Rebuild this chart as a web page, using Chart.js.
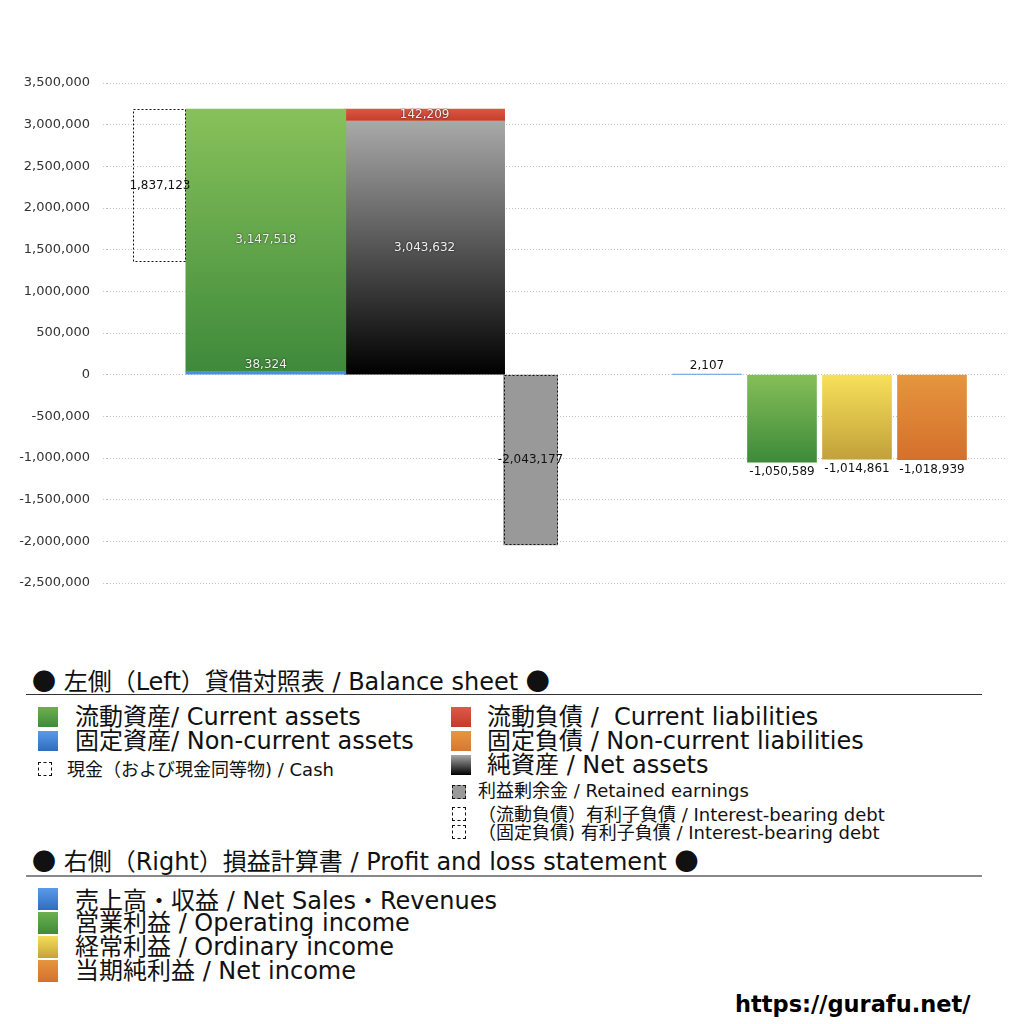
<!DOCTYPE html>
<html>
<head>
<meta charset="utf-8">
<script src="https://cdn.jsdelivr.net/npm/chart.js@4/dist/chart.umd.min.js"></script>
<style>
  html, body { margin: 0; padding: 0; background: #fff; }
  body { width: 1024px; height: 1024px; position: relative; overflow: hidden;
         font-family: "DejaVu Sans", "Noto Sans CJK JP", sans-serif; color: #111; }
  #wrap { position: absolute; left: 0; top: 0; width: 1024px; height: 620px; }
  .t { position: absolute; white-space: nowrap; line-height: 1; }
  .j { font-family: "Noto Sans CJK JP", sans-serif; }
  .hdr { font-size: 24px; }
  .big { font-size: 24px; }
  .small { font-size: 18px; }
  .sw { position: absolute; }
  .rule { position: absolute; left: 26px; width: 956px; }
  .dash { position: absolute; width: 12px; height: 12px; border: 1px dashed #111; box-sizing: content-box; }
</style>
</head>
<body>
<div id="wrap"><canvas id="c" width="1024" height="620"></canvas></div>

<!-- legend: balance sheet -->
<div class="t hdr" style="left:32px; top:668px;"><span class="j">●</span> 左側<span class="j">（</span>Left<span class="j">）</span>貸借対照表 / Balance sheet <span class="j">●</span></div>
<div class="rule" style="top:694px; height:1px; background:#333;"></div>

<div class="sw" style="left:38px; top:707px; width:20px; height:20px; background:linear-gradient(#6cb04f,#3f8b3b);"></div>
<div class="t big" style="left:75px; top:705px;">流動資産/ Current assets</div>
<div class="sw" style="left:38px; top:731px; width:20px; height:20px; background:linear-gradient(#5a9be8,#2f6cc0);"></div>
<div class="t big" style="left:75px; top:729px;">固定資産/ Non-current assets</div>
<div class="dash" style="left:38px; top:762px;"></div>
<div class="t small" style="left:67px; top:759px;">現金<span class="j">（</span>および現金同等物) / Cash</div>

<div class="sw" style="left:451px; top:707px; width:20px; height:20px; background:linear-gradient(#dc5a46,#c23b2a);"></div>
<div class="t big" style="left:487px; top:705px;">流動負債 /&nbsp; Current liabilities</div>
<div class="sw" style="left:451px; top:731px; width:20px; height:20px; background:linear-gradient(#e8963e,#d8772e);"></div>
<div class="t big" style="left:487px; top:729px;">固定負債 / Non-current liabilities</div>
<div class="sw" style="left:451px; top:755px; width:20px; height:20px; background:linear-gradient(#a8a8a8,#000);"></div>
<div class="t big" style="left:487px; top:753px;">純資産 / Net assets</div>
<div class="dash" style="left:452px; top:785px; background:#999;"></div>
<div class="t small" style="left:478px; top:782px;">利益剰余金 / Retained earnings</div>
<div class="dash" style="left:452px; top:807px;"></div>
<div class="t small" style="left:478px; top:804px;"><span class="j">（</span>流動負債<span class="j">）</span>有利子負債 / Interest-bearing debt</div>
<div class="dash" style="left:452px; top:825px;"></div>
<div class="t small" style="left:478px; top:822px;"><span class="j">（</span>固定負債) 有利子負債 / Interest-bearing debt</div>

<!-- legend: profit and loss -->
<div class="t hdr" style="left:32px; top:848px;"><span class="j">●</span> 右側<span class="j">（</span>Right<span class="j">）</span>損益計算書 / Profit and loss statement <span class="j">●</span></div>
<div class="rule" style="top:875px; height:2px; background:#888;"></div>

<div class="sw" style="left:38px; top:888px; width:20px; height:22px; background:linear-gradient(#5a9be8,#2f6cc0);"></div>
<div class="t big" style="left:75px; top:887px;">売上高<span class="j">・</span>収益 / Net Sales<span class="j">・</span>Revenues</div>
<div class="sw" style="left:38px; top:912px; width:20px; height:22px; background:linear-gradient(#6cb04f,#3f8b3b);"></div>
<div class="t big" style="left:75px; top:911px;">営業利益 / Operating income</div>
<div class="sw" style="left:38px; top:936px; width:20px; height:22px; background:linear-gradient(#f4de58,#c4a33a);"></div>
<div class="t big" style="left:75px; top:935px;">経常利益 / Ordinary income</div>
<div class="sw" style="left:38px; top:960px; width:20px; height:22px; background:linear-gradient(#e5963e,#d4702c);"></div>
<div class="t big" style="left:75px; top:959px;">当期純利益 / Net income</div>

<div class="t" style="left:735px; top:993px; font-size:22.5px; font-weight:bold; color:#000;">https://gurafu.net/</div>

<script>
// ---------------- data ----------------
const bsCategories = ['現金', '資産', '負債・純資産', '利益剰余金'];
const cash = [1837123];
const currentAssets = [3147518];
const nonCurrentAssets = [38324];
const currentLiabilities = [142209];
const nonCurrentLiabilities = [0];
const netAssets = [3043632];
const retainedEarnings = [-2043177];

const plCategories = ['売上高・収益', '営業利益', '経常利益', '当期純利益'];
const plValues = [2107, -1050589, -1014861, -1018939];

const yMin = -2500000;
const yMax = 3500000;
const yStep = 500000;

// ---------------- layout helpers (slots on hidden category axes) ----------------
const leftSlots = Array.from({length: 18}, (_, i) => ' '.repeat(i + 1));
[1, 3, 6, 8].forEach((slot, k) => { leftSlots[slot] = bsCategories[k]; });
const rightSlots = Array.from({length: 13}, (_, i) => ' '.repeat(i + 1));
[8, 9, 10, 11].forEach((slot, k) => { rightSlots[slot] = plCategories[k]; });

const fmt = v => v.toLocaleString('en-US');

function grad(c1, c2) {
  return (ctx) => {
    const chart = ctx.chart;
    if (!chart.chartArea || !ctx.raw) return c1;
    const ys = chart.scales.y;
    const r = ctx.raw.y;
    const a = Array.isArray(r) ? r[0] : 0;
    const b = Array.isArray(r) ? r[1] : r;
    const p1 = ys.getPixelForValue(Math.max(a, b));
    const p2 = ys.getPixelForValue(Math.min(a, b));
    if (!isFinite(p1) || !isFinite(p2) || Math.abs(p2 - p1) < 1) return c1;
    const g = chart.ctx.createLinearGradient(0, p1, 0, p2);
    g.addColorStop(0, c1);
    g.addColorStop(1, c2);
    return g;
  };
}

const totalAssets = currentAssets[0] + nonCurrentAssets[0];
const liabBase = netAssets[0] + nonCurrentLiabilities[0];

const plColors = [
  ['#5a9be8', '#2f6cc0'],
  ['#86bf58', '#3d8a3a'],
  ['#f7e05a', '#c2a13a'],
  ['#e5963e', '#d4702c']
];

const WIDE = 160, NARROW = 53, PL = 69;

const datasets = [
  { label: '固定資産', xAxisID: 'xL', barThickness: WIDE,
    data: [{x: bsCategories[1], y: [0, nonCurrentAssets[0]]}],
    backgroundColor: '#4a8ee0', lbl: {text: fmt(nonCurrentAssets[0]), mode: 'above', color: '#fff'} },
  { label: '流動資産', xAxisID: 'xL', barThickness: WIDE,
    data: [{x: bsCategories[1], y: [nonCurrentAssets[0], totalAssets]}],
    backgroundColor: grad('#88c15a', '#3e8a3b'), lbl: {text: fmt(currentAssets[0]), mode: 'center', color: '#fff'} },
  { label: '純資産', xAxisID: 'xL', barThickness: WIDE,
    data: [{x: bsCategories[2], y: [0, netAssets[0]]}],
    backgroundColor: grad('#a9a9a9', '#000000'), lbl: {text: fmt(netAssets[0]), mode: 'center', color: '#fff'} },
  { label: '固定負債', xAxisID: 'xL', barThickness: WIDE,
    data: [{x: bsCategories[2], y: [netAssets[0], liabBase]}],
    backgroundColor: '#e08a36' },
  { label: '流動負債', xAxisID: 'xL', barThickness: WIDE,
    data: [{x: bsCategories[2], y: [liabBase, liabBase + currentLiabilities[0]]}],
    backgroundColor: grad('#dc5643', '#c53d2b'), lbl: {text: fmt(currentLiabilities[0]), mode: 'center', color: '#fff'} },
  { label: '現金', xAxisID: 'xL', barThickness: NARROW,
    data: [{x: bsCategories[0], y: [totalAssets - cash[0], totalAssets]}],
    backgroundColor: 'rgba(0,0,0,0)', dashed: true, lbl: {text: fmt(cash[0]), mode: 'center', color: '#111'} },
  { label: '利益剰余金', xAxisID: 'xL', barThickness: NARROW + 1,
    data: [{x: bsCategories[3], y: [retainedEarnings[0], 0]}],
    backgroundColor: '#999999', dashed: true, lbl: {text: fmt(retainedEarnings[0]), mode: 'center', color: '#111'} },
  { label: '損益計算書', xAxisID: 'xR', barThickness: PL,
    data: plCategories.map((c, i) => ({x: c, y: plValues[i]})),
    backgroundColor: (ctx) => {
      const pc = plColors[ctx.dataIndex] || plColors[0];
      return grad(pc[0], pc[1])(ctx);
    },
    lbl: {texts: plValues.map(fmt), mode: 'end', color: '#111'} }
];
datasets.forEach(d => { d.categoryPercentage = 1; d.barPercentage = 1; d.grouped = false; d.borderWidth = 0; });

const labelPlugin = {
  id: 'valueLabels',
  afterDatasetsDraw(chart) {
    const ctx = chart.ctx;
    chart.data.datasets.forEach((ds, di) => {
      const meta = chart.getDatasetMeta(di);
      meta.data.forEach((el, i) => {
        const p = el.getProps(['x', 'y', 'base', 'width'], true);
        const top = Math.min(p.y, p.base), bot = Math.max(p.y, p.base);
        if (ds.dashed) {
          ctx.save();
          ctx.strokeStyle = '#111';
          ctx.lineWidth = 1;
          ctx.setLineDash([2, 2]);
          ctx.strokeRect(Math.round(p.x - p.width / 2) + 0.5, Math.round(top) + 0.5,
                         Math.round(p.width) - 1, Math.round(bot - top) - 1);
          ctx.restore();
        }
        if (!ds.lbl) return;
        const text = ds.lbl.texts ? ds.lbl.texts[i] : ds.lbl.text;
        let ty;
        if (ds.lbl.mode === 'center') ty = (top + bot) / 2;
        else if (ds.lbl.mode === 'above') ty = top - 7;
        else {
          const v = ds.data[i].y;
          ty = v >= 0 ? p.y - 9 : p.y + 10;
        }
        ctx.save();
        ctx.font = '12px "DejaVu Sans", sans-serif';
        ctx.textAlign = 'center';
        ctx.textBaseline = 'middle';
        if (ds.lbl.color === '#fff') {
          ctx.shadowColor = 'rgba(0,0,0,0.8)';
          ctx.shadowBlur = 2;
          ctx.fillStyle = '#f0f0f0';
        } else {
          ctx.fillStyle = ds.lbl.color;
        }
        ctx.fillText(text, p.x, ty);
        ctx.restore();
      });
    });
  }
};

new Chart(document.getElementById('c'), {
  type: 'bar',
  data: { datasets },
  plugins: [labelPlugin],
  options: {
    responsive: false,
    animation: false,
    layout: { padding: { left: 0, top: 83, right: 17, bottom: 37 } },
    plugins: { legend: { display: false }, tooltip: { enabled: false } },
    scales: {
      xL: { type: 'category', labels: leftSlots, offset: false, display: false },
      xR: { type: 'category', labels: rightSlots, offset: false, display: false },
      y: {
        type: 'linear', min: yMin, max: yMax,
        afterFit(scale) { scale.width = 107; },
        ticks: {
          stepSize: yStep, padding: 13, color: '#333',
          font: { family: '"DejaVu Sans", sans-serif', size: 13 },
          callback: v => fmt(v)
        },
        grid: { color: '#c4c4c4', lineWidth: 1, drawTicks: true, tickLength: 4,
                tickColor: '#c4c4c4', tickBorderDash: [1, 2] },
        border: { display: false, dash: [1, 2] }
      }
    }
  }
});
</script>
</body>
</html>
